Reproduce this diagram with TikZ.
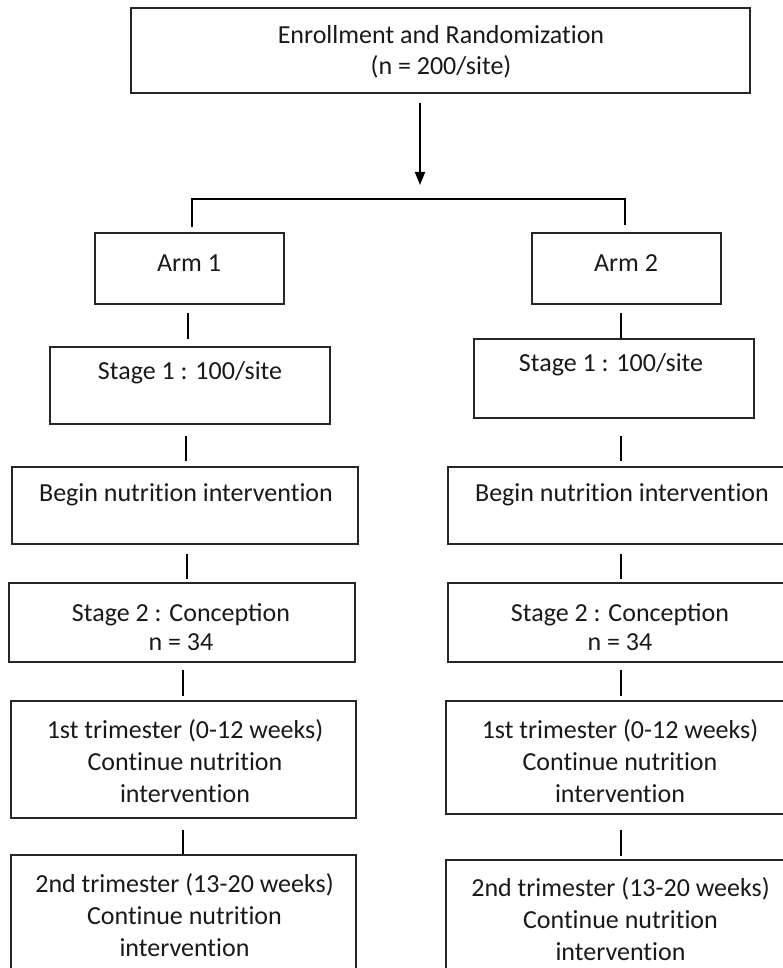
\documentclass[tikz,border=0pt]{standalone}
\usepackage{fontspec}
\setmainfont{Carlito}[Ligatures=NoCommon]
\newfontfamily\ligfont{Carlito}
\usetikzlibrary{arrows.meta,calc}
\newcommand\mybox[5]{\node[boxst, minimum width={(#4-#2)*1pt}, minimum height={(#5-#3)*1pt}] (#1) at ({(#2+#4)/2},{(#3+#5)/2}) {};}
\newcommand\mylink[5]{\draw[conn] ($(#1.south -| #3)+(0,#4)$) -- ($(#2.north -| #3)+(0,-#5)$);}
\begin{document}
\begin{tikzpicture}[x=1pt,y=-1pt,
  boxst/.style={draw=black!85, line width=1.8pt, rectangle, inner sep=0pt},
  txt/.style={align=center, inner sep=0pt, font=\fontsize{26}{32}\selectfont, text=black!90},
  conn/.style={line width=1.6pt, draw=black}]
\clip (0,0) rectangle (783,968);
% boxes
\mybox{top}{131}{8}{750}{93}
\mybox{arm1}{95}{233}{284}{304}
\mybox{arm2}{532}{233}{721}{304}
\mybox{s1L}{50}{347}{330}{424}
\mybox{s1R}{474}{339}{754}{418}
\mybox{bgL}{12}{467}{358}{544}
\mybox{bgR}{448}{467}{794}{544}
\mybox{s2L}{9}{583}{355}{662}
\mybox{s2R}{448}{583}{792}{662}
\mybox{t1L}{11}{701}{356}{818}
\mybox{t1R}{446}{701}{794}{814}
\mybox{t2L}{11}{855}{356}{985}
\mybox{t2R}{446}{860}{794}{990}
% texts
\node[txt] (topT) at (441,51.5) {Enrollment and Randomization\\[-1pt](n = 200/site)};
\node[txt] (arm1T) at (189,263) {Arm 1};
\node[txt] (arm2T) at (626,263) {Arm 2};
\node[txt] (s1LT) at (190,373) {Stage 1 : 100/site};
\node[txt] (s1RT) at (611,365) {Stage 1 : 100/site};
\node[txt] (bgLT) at (186,495) {Begin nutrition intervention};
\node[txt] (bgRT) at (622,495) {Begin nutrition intervention};
\node[txt] (s2LT) at (181,627.5) {Stage 2 : {\ligfont Conception}\\[-3pt]n = 34};
\node[txt] (s2RT) at (620,627.5) {Stage 2 : {\ligfont Conception}\\[-3pt]n = 34};
\node[txt] (t1LT) at (185,761) {1st trimester (0-12 weeks)\\Continue nutrition\\intervention};
\node[txt] (t1RT) at (620,761) {1st trimester (0-12 weeks)\\Continue nutrition\\intervention};
\node[txt] (t2LT) at (184.5,915) {2nd trimester (13-20 weeks)\\Continue nutrition\\intervention};
\node[txt] (t2RT) at (620.5,919) {2nd trimester (13-20 weeks)\\Continue nutrition\\intervention};
% split
\coordinate (split) at (420,199);
\coordinate (bl) at (192,199);
\coordinate (br) at (625,199);
\coordinate (colR) at (621,0);
\coordinate (cl1) at (188,0);
\coordinate (cl2) at (186,0);
\coordinate (cl3) at (187,0);
\coordinate (cl4) at (183,0);
\coordinate (cl5) at (183,0);
\draw[conn, -{Triangle[length=13pt,width=10pt]}] ($(top.south -| split)+(0,9)$) -- ($(split)+(0,-14)$);
\draw[conn] ($(arm1.north -| bl)+(0,-5)$) |- (split) -| ($(arm2.north -| br)+(0,-7)$);
% left column
\mylink{arm1}{s1L}{cl1}{8}{7}
\mylink{s1L}{bgL}{cl2}{11}{5}
\mylink{bgL}{s2L}{cl3}{9}{3}
\mylink{s2L}{t1L}{cl4}{7}{4}
\mylink{t1L}{t2L}{cl5}{11}{0}
% right column
\mylink{arm2}{s1R}{colR}{8}{0}
\mylink{s1R}{bgR}{colR}{17}{5}
\mylink{bgR}{s2R}{colR}{9}{3}
\mylink{s2R}{t1R}{colR}{7}{4}
\mylink{t1R}{t2R}{colR}{15}{3}
\end{tikzpicture}
\end{document}
